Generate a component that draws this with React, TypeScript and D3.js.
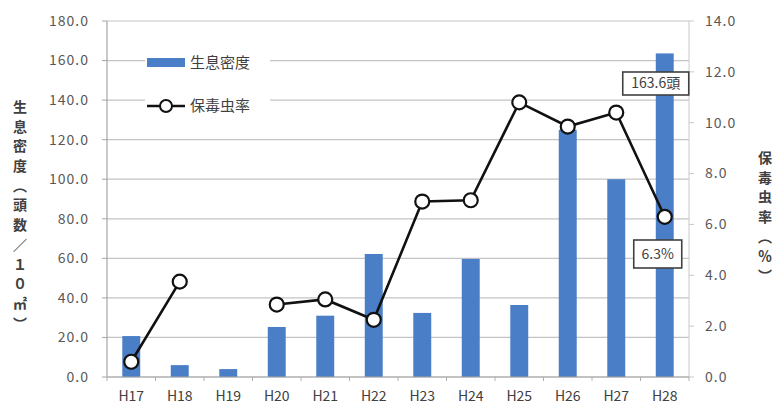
import React from "react";
import * as d3 from "d3";

const categories = ["H17", "H18", "H19", "H20", "H21", "H22", "H23", "H24", "H25", "H26", "H27", "H28"];
const density = [20.7, 6, 4, 25.3, 31, 62.2, 32.4, 59.7, 36.4, 125, 100, 163.6];
const rate: (number | null)[] = [0.6, 3.75, null, 2.85, 3.05, 2.25, 6.9, 6.95, 10.8, 9.85, 10.4, 6.3];
const leftTicks = [0, 20, 40, 60, 80, 100, 120, 140, 160, 180];
const rightTicks = [0, 2, 4, 6, 8, 10, 12, 14];
const leftTitle = ["生", "息", "密", "度", "︵", "頭", "数", "／", "１", "０", "㎡", "︶"];
const rightTitle = ["保", "毒", "虫", "率", "︵", "％", "︶"];
const seriesNames = ["生息密度", "保毒虫率"];

const W = 777, H = 407;
const L = 107, R = 689, T = 21, B = 377;
const FONT = "'Noto Sans CJK JP', 'Noto Sans', sans-serif";
const BAR = "#4a7ec6";

export default function App() {
  const x = d3.scaleBand<string>().domain(categories).range([L, R]).paddingInner(0.63).paddingOuter(0.315);
  const yL = d3.scaleLinear().domain([0, 180]).range([B, T]);
  const yR = d3.scaleLinear().domain([0, 14]).range([B, T]);
  const cx = (c: string) => (x(c) as number) + x.bandwidth() / 2;
  const line = d3
    .line<number | null>()
    .defined((d) => d !== null)
    .x((_, i) => cx(categories[i]))
    .y((d) => yR(d as number));
  const step = x.step();
  const boundaries = d3.range(categories.length + 1).map((i) => L + i * step);

  const leftY = leftTitle.map((_, i) => 107 + i * 19.7);
  const rightY = rightTitle.map((_, i) => 158 + i * 19.7);

  const lastIdx = categories.length - 1;
  const lastX = cx(categories[lastIdx]);

  return (
    <svg width={W} height={H} style={{ position: "absolute", left: 0, top: 0, background: "#fff" }} fontFamily={FONT}>
      <rect x={0} y={0} width={W} height={H} fill="#fff" />
      {leftTicks.map((t) => (
        <line key={"g" + t} x1={L} x2={R} y1={yL(t)} y2={yL(t)} stroke="#c4c4c4" strokeWidth={1.2} />
      ))}
      <line x1={L} x2={L} y1={T} y2={B} stroke="#a6a6a6" strokeWidth={1.2} />
      <line x1={R} x2={R} y1={T} y2={B} stroke="#c8c8c8" strokeWidth={1} />
      {leftTicks.map((t) => (
        <line key={"lt" + t} x1={L - 5} x2={L} y1={yL(t)} y2={yL(t)} stroke="#a6a6a6" />
      ))}
      {rightTicks.map((t) => (
        <line key={"rt" + t} x1={R} x2={R + 5} y1={yR(t)} y2={yR(t)} stroke="#c8c8c8" />
      ))}
      {boundaries.map((b, i) => (
        <line key={"xt" + i} x1={b} x2={b} y1={B} y2={B + 4} stroke="#b0b0b0" />
      ))}
      {categories.map((c, i) => (
        <rect key={"b" + c} x={x(c)} y={yL(density[i])} width={x.bandwidth()} height={B - yL(density[i])} fill={BAR} />
      ))}
      <line x1={L} x2={R} y1={B} y2={B} stroke="#a6a6a6" strokeWidth={1.2} />
      <path d={line(rate) || ""} fill="none" stroke="#111" strokeWidth={2.6} />
      {rate.map((v, i) =>
        v === null ? null : (
          <circle key={"c" + i} cx={cx(categories[i])} cy={yR(v)} r={7} fill="#fff" stroke="#111" strokeWidth={2.2} />
        )
      )}
      {leftTicks.map((t) => (
        <text key={"ll" + t} x={89} y={yL(t)} dy="0.35em" textAnchor="end" fontSize={14} letterSpacing={1} fill="#595959">
          {t.toFixed(1)}
        </text>
      ))}
      {rightTicks.map((t) => (
        <text key={"rl" + t} x={705} y={yR(t)} dy="0.35em" textAnchor="start" fontSize={14} letterSpacing={1} fill="#595959">
          {t.toFixed(1)}
        </text>
      ))}
      {categories.map((c) => (
        <text key={"xl" + c} x={cx(c)} y={396} dy="0.35em" textAnchor="middle" fontSize={14} fill="#404040">
          {c}
        </text>
      ))}
      {leftTitle.map((ch, i) => (
        <text key={"ltt" + i} x={20} y={leftY[i]} dy="0.35em" textAnchor="middle" fontSize={14} fontWeight="bold" fill="#404040">
          {ch}
        </text>
      ))}
      {rightTitle.map((ch, i) => (
        <text key={"rtt" + i} x={765} y={rightY[i]} dy="0.35em" textAnchor="middle" fontSize={14} fontWeight="bold" fill="#404040">
          {ch}
        </text>
      ))}
      <rect x={145} y={48} width={125} height={70} fill="#fff" />
      <rect x={147} y={58} width={38} height={9} fill={BAR} />
      <text x={190} y={62.5} dy="0.35em" fontSize={15} fill="#404040">{seriesNames[0]}</text>
      <line x1={147} x2={185} y1={106} y2={106} stroke="#111" strokeWidth={2.6} />
      <circle cx={166} cy={106} r={6} fill="#fff" stroke="#111" strokeWidth={2} />
      <text x={190} y={106} dy="0.35em" fontSize={15} fill="#404040">{seriesNames[1]}</text>
      <rect x={lastX - 42} y={72} width={66} height={23} fill="#fff" stroke="#404040" strokeWidth={1.6} />
      <text x={lastX - 9} y={83.5} dy="0.35em" textAnchor="middle" fontSize={14} fill="#404040">
        {density[lastIdx].toFixed(1) + "頭"}
      </text>
      <rect x={lastX - 31} y={240} width={48} height={28} fill="#fff" stroke="#404040" strokeWidth={1.6} />
      <text x={lastX - 7} y={254} dy="0.35em" textAnchor="middle" fontSize={14} fill="#404040">
        {(rate[lastIdx] as number).toFixed(1) + "%"}
      </text>
    </svg>
  );
}
